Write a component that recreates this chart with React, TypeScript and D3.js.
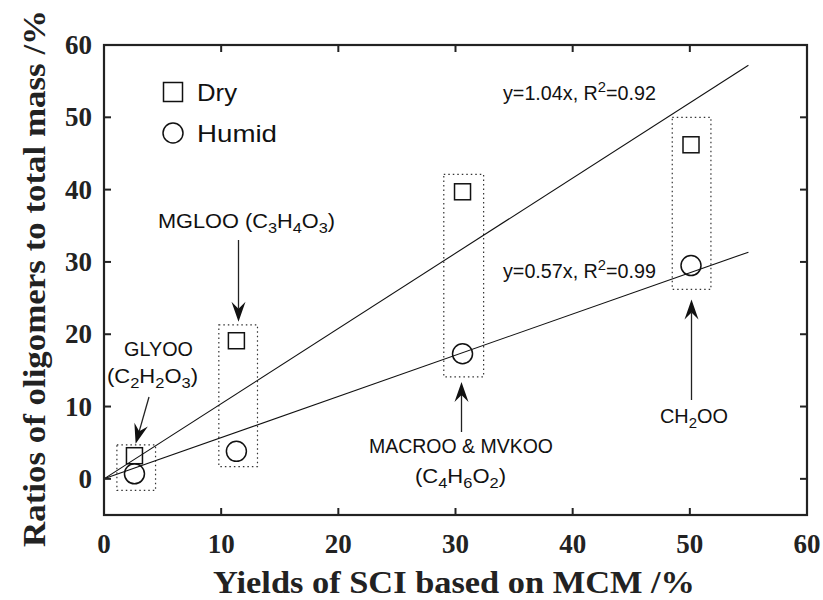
import React from "react";
import * as d3 from "d3";

// Measured SCI yields and oligomer mass ratios
const species = ["GLYOO", "MGLOO", "MACROO & MVKOO", "CH2OO"];
const sciYield = [2.6, 11.3, 30.6, 50.1];
const dryRatio = [3.2, 19.1, 39.7, 46.2];
const humidRatio = [0.7, 3.8, 17.3, 29.5];

// Linear fits through the origin
const fitSlopes = [1.04, 0.57];
const fitR2 = [0.92, 0.99];
const fitEndX = 55;

// Dotted grouping boxes (data units) around each species pair
const boxX0 = [1.1, 9.8, 29.0, 48.5];
const boxX1 = [4.4, 13.1, 32.4, 51.8];
const boxY0 = [-1.6, 1.7, 14.1, 26.2];
const boxY1 = [4.7, 21.3, 42.1, 50.0];

const xTicks = [0, 10, 20, 30, 40, 50, 60];
const yTicks = [0, 10, 20, 30, 40, 50, 60];

const W = 823;
const H = 600;
const M = { left: 104, top: 45, right: 807, bottom: 515 };
const ink = "#222";
const serif = "'Liberation Serif', 'Times New Roman', serif";
const sans = "'Liberation Sans', Arial, sans-serif";

const x = d3.scaleLinear().domain([0, 60]).range([M.left, M.right]);
const y = d3.scaleLinear().domain([-5, 60]).range([M.bottom, M.top]);

function Arrow({ x1, y1, x2, y2 }: { x1: number; y1: number; x2: number; y2: number }) {
  const ang = Math.atan2(y2 - y1, x2 - x1);
  const L = 20;
  const Wd = 7;
  const notch = 13;
  const c = Math.cos(ang);
  const s = Math.sin(ang);
  const pt = (a: number, b: number) => [x2 + a * c - b * s, y2 + a * s + b * c];
  const p1 = pt(-L, Wd);
  const p2 = pt(-notch, 0);
  const p3 = pt(-L, -Wd);
  return (
    <g>
      <line x1={x1} y1={y1} x2={p2[0]} y2={p2[1]} stroke={ink} strokeWidth={1.3} />
      <path d={`M${x2},${y2}L${p1[0]},${p1[1]}L${p2[0]},${p2[1]}L${p3[0]},${p3[1]}Z`} fill="#111" />
    </g>
  );
}

// Chemical formula with subscripted digits, e.g. "C2H2O3"
function Formula({ f }: { f: string }) {
  const parts = f.match(/[A-Za-z()&\s]+|\d+/g) || [];
  let lowered = false;
  return (
    <>
      {parts.map((p, i) => {
        const isNum = /^\d+$/.test(p);
        let dy = 0;
        if (isNum && !lowered) {
          dy = 5;
          lowered = true;
        } else if (!isNum && lowered) {
          dy = -5;
          lowered = false;
        }
        return (
          <tspan key={i} dy={dy} fontSize={isNum ? 15 : undefined}>
            {p}
          </tspan>
        );
      })}
    </>
  );
}

export default function App() {
  const fitLine = d3
    .line<[number, number]>()
    .x((d) => x(d[0]))
    .y((d) => y(d[1]));

  const annFont = {
    fontFamily: sans,
    fontSize: 20,
    fill: "#111",
    lengthAdjust: "spacingAndGlyphs",
  } as const;

  return (
    <svg width={W} height={H} style={{ position: "absolute", left: 0, top: 0, background: "#fff" }}>
      <rect width={W} height={H} fill="#fff" />

      {/* grouping boxes */}
      {species.map((sp, i) => (
        <rect
          key={sp}
          x={x(boxX0[i])}
          y={y(boxY1[i])}
          width={x(boxX1[i]) - x(boxX0[i])}
          height={y(boxY0[i]) - y(boxY1[i])}
          fill="none"
          stroke="#333"
          strokeWidth={1.2}
          strokeDasharray="1.5,3"
        />
      ))}

      {/* fit lines */}
      {fitSlopes.map((k, i) => (
        <path
          key={i}
          d={fitLine([
            [0, 0],
            [fitEndX, k * fitEndX],
          ]) as string}
          stroke="#111"
          strokeWidth={1.1}
          fill="none"
        />
      ))}

      {/* markers */}
      {sciYield.map((v, i) => (
        <rect
          key={"d" + i}
          x={x(v) - 8}
          y={y(dryRatio[i]) - 8}
          width={16}
          height={16}
          fill="none"
          stroke="#111"
          strokeWidth={1.5}
        />
      ))}
      {sciYield.map((v, i) => (
        <circle key={"h" + i} cx={x(v)} cy={y(humidRatio[i])} r={10} fill="none" stroke="#111" strokeWidth={1.5} />
      ))}

      {/* frame and ticks */}
      <rect
        x={M.left}
        y={M.top}
        width={M.right - M.left}
        height={M.bottom - M.top}
        fill="none"
        stroke={ink}
        strokeWidth={2.2}
      />
      {xTicks.slice(1, -1).map((t) => (
        <g key={"xt" + t}>
          <line x1={x(t)} x2={x(t)} y1={M.bottom} y2={M.bottom - 7} stroke={ink} strokeWidth={2} />
          <line x1={x(t)} x2={x(t)} y1={M.top} y2={M.top + 7} stroke={ink} strokeWidth={2} />
        </g>
      ))}
      {yTicks.slice(0, -1).map((t) => (
        <g key={"yt" + t}>
          <line x1={M.left} x2={M.left + 7} y1={y(t)} y2={y(t)} stroke={ink} strokeWidth={2} />
          <line x1={M.right} x2={M.right - 7} y1={y(t)} y2={y(t)} stroke={ink} strokeWidth={2} />
        </g>
      ))}
      {xTicks.map((t) => (
        <text
          key={"xl" + t}
          x={x(t)}
          y={553}
          textAnchor="middle"
          fontFamily={serif}
          fontWeight="bold"
          fontSize={27}
          fill={ink}
        >
          {t}
        </text>
      ))}
      {yTicks.map((t) => (
        <text
          key={"yl" + t}
          x={92}
          y={y(t) + 9}
          textAnchor="end"
          fontFamily={serif}
          fontWeight="bold"
          fontSize={27}
          fill={ink}
        >
          {t}
        </text>
      ))}

      {/* axis titles */}
      <text
        x={213}
        y={593}
        fontFamily={serif}
        fontWeight="bold"
        fontSize={32}
        fill={ink}
        textLength={482}
        lengthAdjust="spacingAndGlyphs"
      >
        Yields of SCI based on MCM /%
      </text>
      <text
        transform={`translate(45,547) rotate(-90)`}
        fontFamily={serif}
        fontWeight="bold"
        fontSize={32}
        fill={ink}
        textLength={537}
        lengthAdjust="spacingAndGlyphs"
      >
        Ratios of oligomers to total mass /%
      </text>

      {/* legend */}
      <rect x={163.5} y={82.5} width={19} height={19} fill="none" stroke="#111" strokeWidth={1.5} />
      <text x={197} y={101} {...annFont} fontSize={24} textLength={40}>Dry</text>
      <circle cx={173} cy={133} r={10} fill="none" stroke="#111" strokeWidth={1.5} />
      <text x={197} y={142} {...annFont} fontSize={24} textLength={80}>Humid</text>

      {/* fit equations */}
      {fitSlopes.map((k, i) => (
        <text key={"eq" + i} x={503} y={i === 0 ? 100 : 278} {...annFont} textLength={153}>
          y={k.toFixed(2)}x, R<tspan fontSize={15} dy={-8}>2</tspan>
          <tspan dy={8}>={fitR2[i].toFixed(2)}</tspan>
        </text>
      ))}

      {/* species annotations */}
      <text x={124} y={356} {...annFont} textLength={69}>{species[0]}</text>
      <text x={107} y={383} {...annFont} textLength={91}>
        <Formula f="(C2H2O3)" />
      </text>
      <Arrow x1={149} y1={397} x2={x(2.7)} y2={y(boxY1[0]) - 1} />

      <text x={158} y={228} {...annFont} textLength={177}>
        {species[1]} <Formula f="(C3H4O3)" />
      </text>
      <Arrow x1={238.5} y1={240} x2={238.5} y2={y(boxY1[1]) - 3} />

      <text x={369} y={453} {...annFont} textLength={184}>{species[2]}</text>
      <text x={415} y={483} {...annFont} textLength={91}>
        <Formula f="(C4H6O2)" />
      </text>
      <Arrow x1={461.5} y1={432} x2={461.5} y2={y(boxY0[2]) + 5} />

      <text x={660} y={423} {...annFont} textLength={68}>
        <Formula f="CH2OO" />
      </text>
      <Arrow x1={691.5} y1={400} x2={691.5} y2={y(boxY0[3]) + 10} />
    </svg>
  );
}
